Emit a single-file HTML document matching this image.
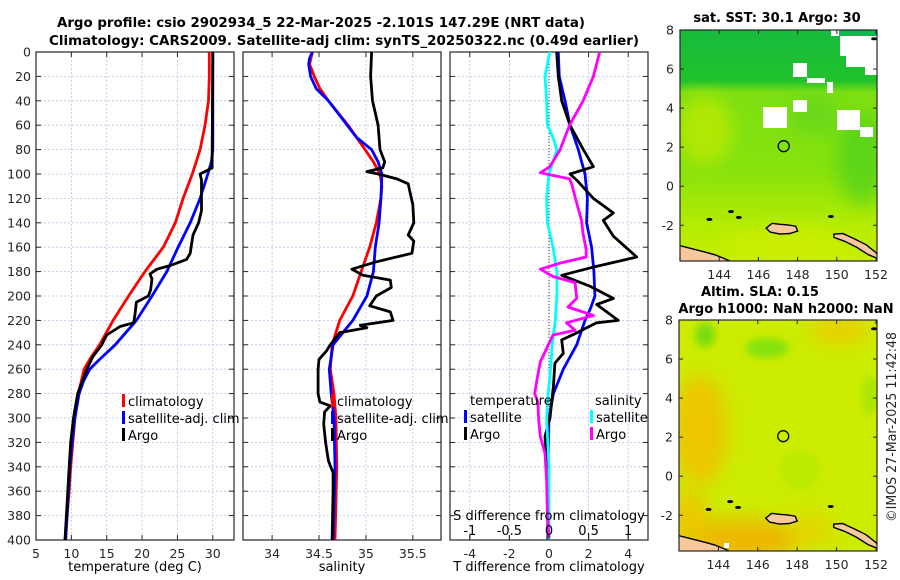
<!DOCTYPE html>
<html><head><meta charset="utf-8">
<style>
html,body{margin:0;padding:0;background:#fff;}
svg{display:block;font-family:"DejaVu Sans","Liberation Sans",sans-serif;}
.tk{font-size:12.5px;fill:#262626;}
.tt{font-size:13px;font-weight:bold;fill:#000;}
.lg{font-size:13px;fill:#000;}
</style></head>
<body>
<svg id="chart" width="900" height="580" viewBox="0 0 900 580" xmlns="http://www.w3.org/2000/svg">
<defs>
<filter id="blur" x="-50%" y="-50%" width="200%" height="200%"><feGaussianBlur stdDeviation="9"/></filter>
<filter id="blur2" x="-50%" y="-50%" width="200%" height="200%"><feGaussianBlur stdDeviation="4"/></filter>
<linearGradient id="sstg" x1="0" y1="0" x2="0" y2="1">
<stop offset="0" stop-color="#16bb3c"/><stop offset="0.22" stop-color="#20c22c"/>
<stop offset="0.27" stop-color="#7cdf12"/><stop offset="0.6" stop-color="#86e20c"/>
<stop offset="0.85" stop-color="#b4ec02"/><stop offset="1" stop-color="#c4ef00"/>
</linearGradient>
<clipPath id="clipA"><rect x="680" y="30" width="197" height="231"/></clipPath>
<clipPath id="clipB"><rect x="679" y="320" width="198" height="231"/></clipPath>
<clipPath id="clipP1"><rect x="36" y="52" width="198" height="488"/></clipPath>
<clipPath id="clipP2"><rect x="243" y="52" width="198" height="488"/></clipPath>
<clipPath id="clipP3"><rect x="450" y="52" width="198" height="488"/></clipPath>
</defs>

<text class="tt" x="321" y="27" text-anchor="middle" textLength="528" lengthAdjust="spacingAndGlyphs">Argo profile: csio 2902934_5 22-Mar-2025 -2.101S 147.29E (NRT data)</text>
<text class="tt" x="344" y="45" text-anchor="middle" textLength="590" lengthAdjust="spacingAndGlyphs">Climatology: CARS2009. Satellite-adj clim: synTS_20250322.nc (0.49d earlier)</text>

<g id="panels"></g>
<g id="maps"></g>

<text class="tk" transform="translate(896,427) rotate(-90)" text-anchor="middle" textLength="190" lengthAdjust="spacingAndGlyphs" style="font-size:13px">©IMOS 27-Mar-2025 11:42:48</text>
</svg>
<script>
// ---------------- data ----------------
const depthTicks = [0,20,40,60,80,100,120,140,160,180,200,220,240,260,280,300,320,340,360,380,400];
const tempTicks = [5,10,15,20,25,30];
const salTicks = [34,34.5,35,35.5];
const tdiffTicks = [-4,-2,0,2,4];
const sdiffTicks = [-1,-0.5,0,0.5,1];

const climTdepth = [0,20,40,60,80,100,120,140,160,180,200,220,240,250,260,280,300,320,340,360,380,400];
const climT      = [29.5,29.5,29.4,28.9,28.2,27.1,25.8,24.7,23.0,20.4,18.1,15.9,14.0,12.8,11.8,11.0,10.5,10.2,9.9,9.7,9.4,9.1];
const satTdepth  = [0,40,80,90,100,120,140,160,180,200,220,240,252,260,270,280,300,320,340,360,380,400];
const satT       = [30.0,30.0,30.0,29.8,29.3,28.2,26.8,25.1,23.5,21.4,19.2,16.2,14.0,12.6,11.7,11.1,10.5,10.1,9.8,9.6,9.4,9.2];
const argoTdepth = [0,95,100,105,130,140,150,165,170,175,178,182,186,195,200,205,215,222,225,232,240,250,260,280,300,320,340,360,380,400];
const argoT      = [30.0,29.9,28.2,28.4,28.4,28.0,27.2,26.8,26.3,24.0,22.1,21.1,21.4,21.2,20.9,19.2,19.0,18.8,16.9,15.0,14.3,13.0,12.2,10.9,10.3,9.9,9.7,9.5,9.3,9.1];

const climSdepth = [0,10,20,30,40,60,80,90,100,110,120,140,160,180,200,220,240,260,280,300,340,400];
const climS      = [34.43,34.40,34.45,34.51,34.60,34.81,34.99,35.08,35.15,35.17,35.16,35.11,35.04,34.95,34.86,34.72,34.64,34.62,34.66,34.68,34.69,34.67];
const satSdepth  = [0,5,10,20,30,40,60,70,80,90,100,120,140,160,180,200,220,240,260,280,300,340,400];
const satS       = [34.43,34.40,34.39,34.41,34.47,34.60,34.80,34.90,35.06,35.13,35.17,35.16,35.14,35.10,35.08,35.01,34.86,34.65,34.61,34.63,34.66,34.67,34.65];
const argoSdepth = [0,20,40,50,60,80,90,95,98,100,104,108,115,125,140,150,155,165,172,178,183,187,193,200,208,213,220,224,226,230,240,245,252,260,280,287,290,295,305,320,335,345,360,400];
const argoS      = [35.06,35.05,35.07,35.10,35.13,35.15,35.20,35.18,35.01,35.13,35.33,35.45,35.47,35.50,35.51,35.45,35.51,35.49,35.11,34.85,34.97,35.26,35.27,35.11,35.04,35.26,35.29,34.94,35.01,34.72,34.62,34.58,34.50,34.49,34.49,34.51,34.62,34.56,34.55,34.57,34.60,34.65,34.65,34.64];

const dTsatDepth  = [0,20,40,60,80,100,120,140,160,180,200,210,220,240,260,280,300,340,400];
const dTsat       = [0.47,0.52,0.81,1.06,1.48,1.82,1.94,1.90,2.15,2.27,2.32,2.10,1.82,1.40,0.72,0.22,0.0,-0.05,-0.05];
const dTargoDepth = [0,20,40,60,80,94,100,105,120,132,138,151,168,176,183,192,202,207,220,222,231,236,247,255,274,300,315,340,400];
const dTargo      = [0.39,0.47,0.64,1.06,1.73,2.24,1.06,1.40,2.24,3.25,2.74,3.25,4.43,2.32,0.64,2.07,3.25,2.41,3.50,2.41,1.31,0.64,0.72,0.30,0.22,0.05,-0.2,-0.1,-0.05];
const dSsatDepth  = [0,20,40,60,70,80,90,100,120,140,160,180,200,220,240,260,280,300,340,400];
const dSsat       = [0.01,-0.05,-0.03,-0.02,0.05,0.10,0.05,0.0,-0.03,-0.02,0.05,0.10,0.10,0.08,0.04,0.02,-0.01,-0.03,0.0,0.0];
const dSargoDepth = [0,20,40,60,80,94,99,104,109,119,138,149,162,168,173,178,184,189,202,209,216,222,228,232,243,254,268,280,287,302,315,329,351,379,398];
const dSargo      = [0.64,0.56,0.43,0.26,0.14,0.01,-0.11,0.26,0.29,0.33,0.41,0.43,0.47,0.47,0.14,-0.11,0.05,0.33,0.35,0.24,0.56,0.22,0.33,0.05,-0.03,-0.11,-0.15,-0.18,-0.14,-0.13,-0.11,-0.05,-0.03,-0.02,0.0];

const argoLon = 147.29, argoLat = 2.05;

// ---------------- helpers ----------------
const NS='http://www.w3.org/2000/svg';
function mk(tag, attrs, parent){const e=document.createElementNS(NS,tag);for(const k in attrs)e.setAttribute(k,attrs[k]);if(parent)parent.appendChild(e);return e;}
const Y0=52, Y1=540;
const yD = d => Y0 + d*(Y1-Y0)/400;
const panels = document.getElementById('panels');

function makeAxis(x0,x1,vmin,vmax){return v => x0 + (v-vmin)*(x1-x0)/(vmax-vmin);}
const xT  = makeAxis(36,234,5,33);
const xS  = makeAxis(243,441,33.69,35.80);
const xdT = makeAxis(450,648,-5,5);
const xdS = makeAxis(450,648,-1.25,1.25);

function panelFrame(x0,x1,name,gridVals,xf,showY){
  const g = mk('g',{},panels);
  
  
  const grid = mk('g',{stroke:'#b8c4e8','stroke-width':'0.8','stroke-dasharray':'2,2'},g);
  
  
  depthTicks.forEach(d=>{ if(d>0&&d<400) mk('line',{x1:x0,x2:x1,y1:yD(d),y2:yD(d)},grid); });
  gridVals.forEach(v=>{ const x=xf(v); if(x>x0+1&&x<x1-1) mk('line',{x1:x,x2:x,y1:Y0,y2:Y1},grid); });
  const ticks = mk('g',{stroke:'#262626','stroke-width':'1'},g);
  depthTicks.forEach(d=>{ const y=yD(d); mk('line',{x1:x0,x2:x0+5,y1:y,y2:y},ticks); mk('line',{x1:x1-5,x2:x1,y1:y,y2:y},ticks); });
  gridVals.forEach(v=>{ const x=xf(v); mk('line',{x1:x,x2:x,y1:Y1,y2:Y1-5},ticks); mk('line',{x1:x,x2:x,y1:Y0,y2:Y0+5},ticks); });
  mk('rect',{x:x0,y:Y0,width:x1-x0,height:Y1-Y0,fill:'none',stroke:'#262626','stroke-width':'1.2'},g);
  gridVals.forEach(v=>{ const t=mk('text',{class:'tk',x:xf(v),y:Y1+18,'text-anchor':'middle'},g); t.textContent=String(v);
    
     });
  if(showY){ depthTicks.forEach(d=>{ const t=mk('text',{class:'tk',x:x0-5,y:yD(d)+4.5,'text-anchor':'end'},g); t.textContent=String(d);
    
     }); }
  return g;
}
function line(depths, vals, xf, color, name, clip, parent){
  const pts = depths.map((d,i)=>xf(vals[i]).toFixed(1)+','+yD(d).toFixed(1)).join(' ');
  const p = mk('polyline',{points:pts,fill:'none',stroke:color,'stroke-width':'2.8','stroke-linejoin':'round','clip-path':'url(#'+clip+')'},parent||panels);
  
  
  return p;
}
function legendEntry(x,y,color,label,parent){
  const g=mk('g',{},parent||panels);
  
  
  mk('rect',{x:x,y:y-7,width:3,height:13,fill:color},g);
  const t=mk('text',{class:'lg',x:x+6,y:y+5},g); t.textContent=label;
}
function label(x,y,txt,name,anchor){
  const t=mk('text',{class:'lg',x:x,y:y,'text-anchor':anchor||'middle'},panels); t.textContent=txt;
  
  
}

// ---- panel 1 temperature
panelFrame(36,234,'temperature-panel',tempTicks,xT,true);
line(climTdepth,climT,xT,'#ff0000','temp-climatology-line','clipP1');
line(satTdepth,satT,xT,'#0000ff','temp-satellite-line','clipP1');
line(argoTdepth,argoT,xT,'#000000','temp-argo-line','clipP1');
legendEntry(122,401,'#ff0000','climatology');
legendEntry(122,418,'#0000ff','satellite-adj. clim');
legendEntry(122,435,'#000000','Argo');
label(135,571,'temperature (deg C)','temperature-axis-title');

// ---- panel 2 salinity
panelFrame(243,441,'salinity-panel',salTicks,xS,false);
line(climSdepth,climS,xS,'#ff0000','sal-climatology-line','clipP2');
line(satSdepth,satS,xS,'#0000ff','sal-satellite-line','clipP2');
line(argoSdepth,argoS,xS,'#000000','sal-argo-line','clipP2');
legendEntry(331,401,'#ff0000','climatology');
legendEntry(331,418,'#0000ff','satellite-adj. clim');
legendEntry(331,435,'#000000','Argo');
label(342,571,'salinity','salinity-axis-title');

// ---- panel 3 differences
panelFrame(450,648,'difference-panel',tdiffTicks,xdT,false);
const zl = mk('line',{x1:xdT(0),x2:xdT(0),y1:Y0,y2:Y1,stroke:'#333','stroke-width':'1','stroke-dasharray':'1,2'},panels);


line(dTsatDepth,dTsat,xdT,'#0000ff','tdiff-satellite-line','clipP3');
line(dTargoDepth,dTargo,xdT,'#000000','tdiff-argo-line','clipP3');
line(dSsatDepth,dSsat,xdS,'#00ffff','sdiff-satellite-line','clipP3');
line(dSargoDepth,dSargo,xdS,'#ff00ff','sdiff-argo-line','clipP3');
label(470,405,'temperature','legend-temperature-heading','start');
legendEntry(464,417,'#0000ff','satellite');
legendEntry(464,434,'#000000','Argo');
label(595,405,'salinity','legend-salinity-heading','start');
legendEntry(590,417,'#00ffff','satellite');
legendEntry(590,434,'#ff00ff','Argo');
label(549,520,'S difference from climatology','sdiff-axis-title');
sdiffTicks.forEach(v=>{ label(xdS(v),535,String(v),'sdiff-tick-label'); mk('line',{x1:xdS(v),x2:xdS(v),y1:540,y2:535,stroke:'#262626'},panels); });
label(549,571,'T difference from climatology','tdiff-axis-title');

// ---------------- maps ----------------
const maps = document.getElementById('maps');
function mapAxes(x0,y0,x1,y1,lat0,lat1,lon0,lon1,name){
  const lonX = v => x0 + (v-lon0)*(x1-x0)/(lon1-lon0);
  const latY = v => y0 + (lat1-v)*(y1-y0)/(lat1-lat0);
  return {lonX,latY,x0,y0,x1,y1,name};
}
const A = mapAxes(680,30,877,261,-3.83,8,142.0,152.05,'sst-map');
const B = mapAxes(679,320,877,551,-3.83,8,142.0,152.05,'sla-map');
const lonTicks=[144,146,148,150,152];
const latTicks=[-2,0,2,4,6,8];

function drawFrame(M){
  const g=mk('g',{},maps);
  
  
  mk('rect',{x:M.x0,y:M.y0,width:M.x1-M.x0,height:M.y1-M.y0,fill:'none',stroke:'#262626','stroke-width':'1.2'},g);
  lonTicks.forEach(v=>{const x=M.lonX(v);mk('line',{x1:x,x2:x,y1:M.y1,y2:M.y1-4,stroke:'#262626'},g);mk('line',{x1:x,x2:x,y1:M.y0,y2:M.y0+4,stroke:'#262626'},g);
    const t=mk('text',{class:'tk',x:x,y:M.y1+18,'text-anchor':'middle'},g);t.textContent=v;});
  latTicks.forEach(v=>{const y=M.latY(v);mk('line',{x1:M.x0,x2:M.x0+4,y1:y,y2:y,stroke:'#262626'},g);mk('line',{x1:M.x1,x2:M.x1-4,y1:y,y2:y,stroke:'#262626'},g);
    const t=mk('text',{class:'tk',x:M.x0-6,y:y+4.5,'text-anchor':'end'},g);t.textContent=v;});
}
function land(M,parent){
  const polys=[
    [[141.9,-3.02],[142.6,-3.2],[143.3,-3.38],[143.8,-3.52],[144.3,-3.72],[144.7,-3.9],[141.9,-3.9]],
    [[146.4,-2.15],[146.7,-1.9],[147.1,-1.95],[147.5,-1.98],[147.9,-2.05],[148.0,-2.3],[147.6,-2.42],[147.1,-2.45],[146.6,-2.35]],
    [[149.85,-2.45],[150.3,-2.42],[150.9,-2.7],[151.5,-3.0],[152.0,-3.4],[152.2,-3.75],[151.6,-3.5],[151.0,-3.12],[150.4,-2.82],[149.85,-2.62]]
  ];
  polys.forEach(p=>{const e=mk('polygon',{points:p.map(q=>M.lonX(q[0]).toFixed(1)+','+M.latY(q[1]).toFixed(1)).join(' '),fill:'#f7c89c',stroke:'#000','stroke-width':'1.4'},parent);
    
    });
  const isl=[[149.7,-1.55],[151.9,7.55],[144.6,-1.3],[143.5,-1.7],[145.0,-1.6]];
  isl.forEach(q=>mk('ellipse',{cx:M.lonX(q[0]),cy:M.latY(q[1]),rx:3,ry:1.5,fill:'#000'},parent));
  const c=mk('circle',{cx:M.lonX(argoLon),cy:M.latY(argoLat),r:5.5,fill:'none',stroke:'#000','stroke-width':'1.3'},parent);
  
  
}
// SST map
(function(){
  const g=mk('g',{'clip-path':'url(#clipA)'},maps);
  
  
  mk('rect',{x:680,y:30,width:197,height:231,fill:'url(#sstg)'},g);
  const f=mk('g',{filter:'url(#blur)'},g);
  mk('ellipse',{cx:862,cy:160,rx:25,ry:45,fill:'#40cc22',opacity:0.6},f);
  mk('ellipse',{cx:815,cy:115,rx:25,ry:20,fill:'#50cf20',opacity:0.45},f);
  mk('ellipse',{cx:705,cy:130,rx:28,ry:35,fill:'#c0e900',opacity:0.75},f);
  mk('ellipse',{cx:790,cy:245,rx:70,ry:14,fill:'#d2ee00',opacity:0.75},f);
  const w=[[831,29,46,7],[840,36,37,20],[846,56,31,11],[865,67,12,8],[793,63,14,14],[807,78,18,5],[827,82,6,11],[763,107,24,21],[793,100,14,12],[837,110,23,20],[860,127,13,10]];
  w.forEach(r=>mk('rect',{x:r[0],y:r[1],width:r[2],height:r[3],fill:'#fff'},g));
  mk('rect',{x:839,y:30,width:38,height:6,fill:'#10b850'},g);
  land(A,g);
})();
drawFrame(A);
// SLA map
(function(){
  const g=mk('g',{'clip-path':'url(#clipB)'},maps);
  
  
  mk('rect',{x:679,y:320,width:198,height:231,fill:'#ccec00'},g);
  const f=mk('g',{filter:'url(#blur)'},g);
  mk('ellipse',{cx:700,cy:430,rx:28,ry:55,fill:'#f0c200',opacity:0.9},f);
  mk('ellipse',{cx:745,cy:540,rx:55,ry:22,fill:'#f0b400',opacity:0.9},f);
  mk('ellipse',{cx:690,cy:520,rx:20,ry:30,fill:'#f0c000',opacity:0.8},f);
  mk('ellipse',{cx:840,cy:330,rx:30,ry:14,fill:'#f0c800',opacity:0.8},f);
  mk('ellipse',{cx:810,cy:530,rx:25,ry:18,fill:'#e8d000',opacity:0.7},f);
  const f2=mk('g',{filter:'url(#blur2)'},g);
  mk('ellipse',{cx:705,cy:335,rx:10,ry:12,fill:'#78dc10'},f2);
  mk('ellipse',{cx:767,cy:348,rx:22,ry:10,fill:'#86e20c'},f2);
  mk('ellipse',{cx:870,cy:395,rx:8,ry:20,fill:'#a8e600'},f2);
  mk('ellipse',{cx:800,cy:470,rx:20,ry:20,fill:'#b4e800',opacity:0.7},f2);
  mk('rect',{x:724,y:543,width:5,height:5,fill:'#fff'},g);
  land(B,g);
})();
drawFrame(B);
function mtitle(x,y,txt,name){const t=mk('text',{class:'tt',x:x,y:y,'text-anchor':'middle'},maps);t.textContent=txt;
  
  }
mtitle(777,22,'sat. SST: 30.1 Argo: 30','sst-map-title');
mtitle(760,296,'Altim. SLA: 0.15','sla-map-title');
mtitle(786,313,'Argo h1000: NaN h2000: NaN','sla-map-subtitle');
</script>
</body></html>
